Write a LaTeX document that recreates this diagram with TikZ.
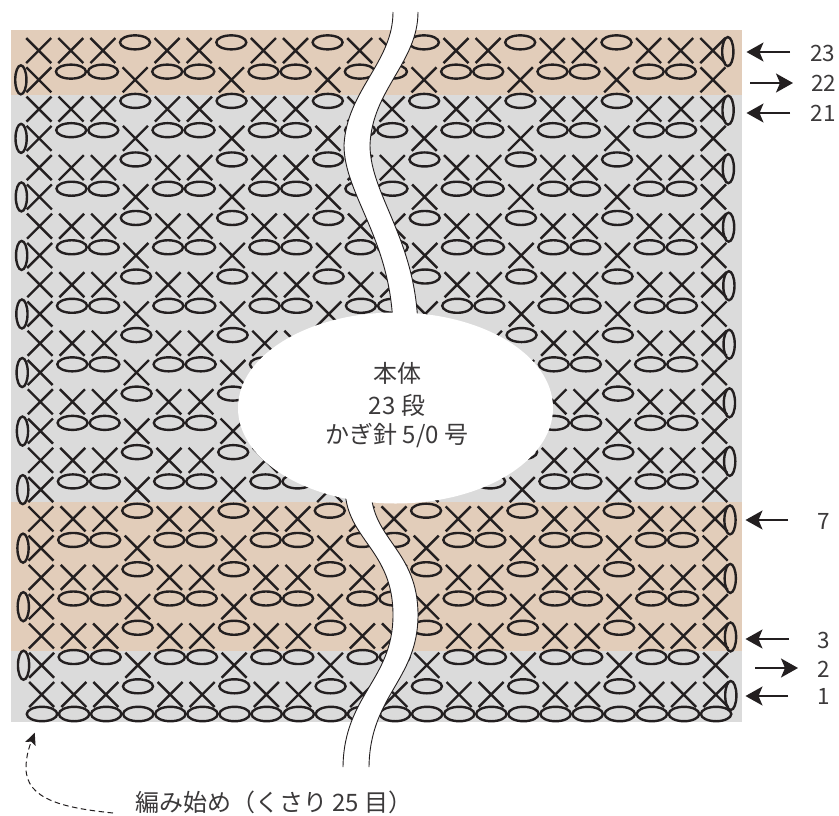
\documentclass[tikz,border=0pt]{standalone}
\usepackage{fontspec}
\setmainfont{Noto Sans CJK JP}
\usetikzlibrary{arrows.meta}
\definecolor{ink}{HTML}{231F20}
\definecolor{txt}{HTML}{3C3A3B}
\definecolor{beige}{HTML}{E2CDBA}
\definecolor{greyband}{HTML}{DBDBDB}
\tikzset{
  stitch/.style={draw=ink,line width=2.4pt,fill=none},
  wavy/.style={draw=ink,line width=0.9pt},
  rowarrow/.style={draw=ink,line width=1.5pt,-{Stealth[length=17pt,width=19pt,inset=4pt]}},
  rownum/.style={text=txt,font=\fontsize{22.5}{26}\selectfont,inner sep=0pt},
  caption/.style={text=txt,font=\fontsize{24}{28}\selectfont,inner sep=0pt},
}
\begin{document}
\begin{tikzpicture}[x=1pt,y=-1pt]
\useasboundingbox (0,0) rectangle (839,815);
\fill[white] (0,0) rectangle (839,815);
% colour bands
\fill[beige] (11,30) rectangle (742,94.5);
\fill[greyband] (11,94.5) rectangle (742,502);
\fill[beige] (11,502) rectangle (742,651);
\fill[greyband] (11,651) rectangle (742,722);
% stitches
\foreach \r in {1,...,23}{
  \pgfmathsetmacro{\yy}{694.5-29.27*(\r-1)}
  \pgfmathsetmacro{\xo}{41.7-3*(\r-1)/22}
  \pgfmathtruncatemacro{\odd}{mod(\r,2)}
  \foreach \i in {0,...,21}{
    \pgfmathsetmacro{\xx}{\xo+32.1*\i}
    \pgfmathtruncatemacro{\three}{mod(\i,3)}
    \pgfmathtruncatemacro{\isx}{\odd==1 ? ((\three==0 && \i>0 && \i<21) ? 0 : 1) : (\three==0 ? 1 : 0)}
    \ifnum\isx=1
      \draw[stitch] (\xx-12.5,\yy-12.5) -- (\xx+12.5,\yy+12.5) (\xx+12.5,\yy-12.5) -- (\xx-12.5,\yy+12.5);
    \else
      \draw[stitch] (\xx,\yy-8.2) ellipse [x radius=15,y radius=7];
    \fi
  }
  \ifnum\odd=1
    \draw[stitch] (\xo+32.1*21+15,\yy+1) ellipse [x radius=5.6,y radius=14.5];
  \else
    \draw[stitch] (\xo-18,\yy) ellipse [x radius=5.6,y radius=14.5];
  \fi
}
% foundation chain
\foreach \i in {0,...,21}{
  \draw[stitch] (42+32.1*\i,714) ellipse [x radius=15.2,y radius=7.2];
}
% white wavy gap
\fill[white] (393,12) .. controls (393,62) and (347,90) .. (344,145)
  .. controls (344,195) and (392,240) .. (393,330)
  -- (345,490) .. controls (347,540) and (393,550) .. (393,615)
  .. controls (393,680) and (344,695) .. (343,767)
  -- (369,767) .. controls (370,695) and (418,680) .. (418,615)
  .. controls (418,550) and (372,540) .. (371,490)
  -- (418,330) .. controls (417,240) and (370,195) .. (370,145)
  .. controls (372,90) and (418,62) .. (418,12) -- cycle;
\draw[wavy] (393,12) .. controls (393,62) and (347,90) .. (344,145)
  .. controls (344,195) and (392,240) .. (393,330);
\draw[wavy] (418,12) .. controls (418,62) and (372,90) .. (370,145)
  .. controls (370,195) and (417,240) .. (418,330);
\draw[wavy] (345,490) .. controls (347,540) and (393,550) .. (393,615)
  .. controls (393,680) and (344,695) .. (343,767);
\draw[wavy] (371,490) .. controls (372,540) and (418,550) .. (418,615)
  .. controls (418,680) and (370,695) .. (369,767);
% central oval
\fill[white] (395.5,408) ellipse [x radius=157.5,y radius=95.5];
\node[caption] (name) at (397,373) {本体};
\node[caption] (rows) at (397,405) {23 段};
\node[caption] (hook) at (397,436) {かぎ針 5/0 号};
% row markers
\node[rownum] (n23) at (822.5,53) {23};
\node[rownum] (n22) at (823.5,83) {22};
\node[rownum] (n21) at (823,113) {21};
\node[rownum] (n7) at (824,521) {7};
\node[rownum] (n3) at (824,640) {3};
\node[rownum] (n2) at (824,669) {2};
\node[rownum] (n1) at (824,696) {1};
\coordinate (a23s) at (790,52);   \coordinate (a23e) at (746.5,52);
\coordinate (a22s) at (750,83);   \coordinate (a22e) at (793,83);
\coordinate (a21s) at (790,113);  \coordinate (a21e) at (746.5,113);
\coordinate (a7s) at (788,520);   \coordinate (a7e) at (745.5,520);
\coordinate (a3s) at (788.5,639); \coordinate (a3e) at (745.5,639);
\coordinate (a2s) at (755,668);   \coordinate (a2e) at (798,668);
\coordinate (a1s) at (788,696);   \coordinate (a1e) at (745.5,696);
\foreach \k in {23,22,21,7,3,2,1}{ \draw[rowarrow] (a\k s) -- (a\k e); }
% start label
\node[caption,anchor=west] (start) at (135,802) {編み始め（くさり 25 目）};
\coordinate (startfrom) at (113,813);
\coordinate (starttip) at (34.7,732.7);
\draw[draw=ink,line width=1pt,dash pattern=on 5.5pt off 3.5pt,-{Stealth[length=12pt,width=11pt,inset=2.5pt]}]
  (startfrom) .. controls (65,808) and (26,800) .. (26,768) .. controls (26,755) and (30,745) .. (starttip);
\end{tikzpicture}
\end{document}
